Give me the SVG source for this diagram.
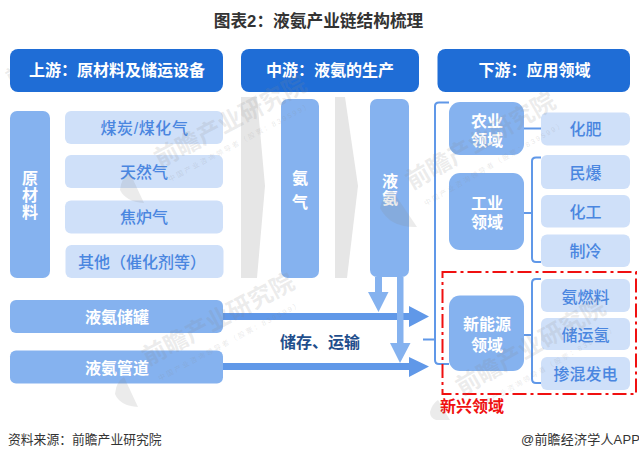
<svg xmlns="http://www.w3.org/2000/svg" width="639" height="460" viewBox="0 0 639 460">
<style>
text{font-family:"Liberation Sans","Noto Sans CJK SC",sans-serif;text-anchor:middle}
.h{fill:#1f6dd6}.m{fill:#85b2ef}.l{fill:#cfe0f9}.g{fill:#e6e6e6}
.ht{fill:#fff;font-size:16px;font-weight:700}
.mt{fill:#fff;font-size:16px;font-weight:700}
.vt{fill:#fff;font-size:16px;font-weight:700;writing-mode:vertical-rl;letter-spacing:1px}
.lt{fill:#4a86e0;font-size:16px;font-weight:500}
.br{fill:none;stroke:#6098e8;stroke-width:2}
.wm{fill:#8a8a8a;fill-opacity:.17;font-size:24px;font-weight:700;text-anchor:start}
.ws{fill:#8a8a8a;fill-opacity:.2;font-size:7px;letter-spacing:2px;text-anchor:start}
.lg{fill:#8a8a8a;fill-opacity:.17}
</style>
<rect width="639" height="460" fill="#fff"/>
<text id="title" x="318.500" y="27" font-size="16.700" font-weight="700" fill="#333">图表2：液氨产业链结构梳理</text>
<g id="under-watermarks">
<text class="wm" transform="translate(10 84) rotate(-28)" style="font-size:18px">前</text>
<text class="wm" transform="translate(18 272) rotate(-28)" style="font-size:20px">院</text>
</g>
<g id="chevrons">
<path class="g" d="M241 97H257L265 186L257 278H241Z"/>
<path class="g" d="M335 97H345L358 186L347 278H335Z"/>
</g>
<g id="connectors">
<path d="M223 313H409V306L429 316.500L409 327V320H223Z" fill="#6098e8"/>
<path d="M223 363H409V357L429 366.500L409 377V370H223Z" fill="#6098e8"/>
<path d="M375 277H382V292H388.500L378.500 312L368 292H375Z" fill="#85b2ef"/>
<path d="M397 277H403.500V343H410.500L400 363L390 343H397Z" fill="#85b2ef"/>
<path class="br" d="M449 102.500H439Q435 102.500 435 106V360Q435 364 439 364H449M423 339.500H435"/>
<path class="br" d="M524 128.500H541"/>
<path class="br" d="M541 157.500H536Q532 157.500 532 161V258Q532 262 536 262H541M524 213H532"/>
<path class="br" d="M541 279H536Q532 279 532 283V379Q532 383 536 383H541M524 335H532"/>
</g>
<g id="header-up"><rect class="h" x="10" y="49" width="213" height="43" rx="8"/><text class="ht" x="117" y="76">上游：原材料及储运设备</text></g>
<g id="header-mid"><rect class="h" x="241" y="49" width="178" height="43" rx="8"/><text class="ht" x="330" y="76">中游：液氨的生产</text></g>
<g id="header-down"><rect class="h" x="437.500" y="49" width="192.500" height="43" rx="8"/><text class="ht" x="534.500" y="76">下游：应用领域</text></g>
<g id="raw"><rect class="m" x="10" y="111" width="40" height="167" rx="7"/><text class="vt" x="28.500" y="195">原材料</text></g>
<g id="coal"><rect class="l" x="65" y="111" width="158" height="33" rx="6"/><text class="lt" x="144.500" y="134" letter-spacing=".6">煤炭/煤化气</text></g>
<g id="gas"><rect class="l" x="65" y="155" width="158" height="33" rx="6"/><text class="lt" x="144" y="178">天然气</text></g>
<g id="coke"><rect class="l" x="65" y="200.500" width="158" height="33" rx="6"/><text class="lt" x="144" y="223">焦炉气</text></g>
<g id="other"><rect class="l" x="65.500" y="245" width="158" height="33" rx="6"/><text class="lt" x="142" y="268">其他（催化剂等）</text></g>
<g id="ammonia-gas"><rect class="m" x="281" y="99" width="38" height="179" rx="7"/><text class="mt"><tspan x="300" y="184">氨</tspan><tspan x="300" dy="24">气</tspan></text></g>
<g id="liquid-ammonia"><rect class="m" x="370" y="99" width="39" height="178" rx="7"/><text class="vt" x="388.500" y="190">液氨</text></g>
<g id="tank"><rect class="m" x="10" y="300" width="213" height="33" rx="6"/><text class="mt" x="117" y="323">液氨储罐</text></g>
<g id="pipe"><rect class="m" x="10" y="350.500" width="213" height="33" rx="6"/><text class="mt" x="117" y="374">液氨管道</text></g>
<text id="transport" x="320" y="348" font-size="16" font-weight="700" fill="#1f4e8c">储存、运输</text>
<g id="agri"><rect class="m" x="449" y="102" width="75" height="53" rx="11"/><text class="mt"><tspan x="487" y="127">农业</tspan><tspan x="487" dy="19">领域</tspan></text></g>
<g id="industry"><rect class="m" x="449" y="173" width="75" height="77" rx="11"/><text class="mt"><tspan x="487" y="209">工业</tspan><tspan x="487" dy="19">领域</tspan></text></g>
<g id="energy"><rect class="m" x="449" y="295.500" width="75" height="75.500" rx="11"/><text class="mt"><tspan x="487" y="330">新能源</tspan><tspan x="487" dy="21">领域</tspan></text></g>
<g id="fert"><rect class="l" x="541" y="112.500" width="89" height="33" rx="6"/><text class="lt" x="585.500" y="135">化肥</text></g>
<g id="blast"><rect class="l" x="541" y="155" width="89" height="34" rx="6"/><text class="lt" x="585.500" y="179">民爆</text></g>
<g id="chem"><rect class="l" x="541" y="195" width="89" height="32.500" rx="6"/><text class="lt" x="585.500" y="218">化工</text></g>
<g id="cold"><rect class="l" x="541" y="234.500" width="89" height="32.500" rx="6"/><text class="lt" x="585.500" y="257">制冷</text></g>
<g id="fuel"><rect class="l" x="541" y="279" width="89" height="33" rx="6"/><text class="lt" x="585.500" y="303">氨燃料</text></g>
<g id="h2"><rect class="l" x="541" y="318" width="89" height="32" rx="6"/><text class="lt" x="585.500" y="341">储运氢</text></g>
<g id="blend"><rect class="l" x="541" y="357" width="89" height="33" rx="6"/><text class="lt" x="585.500" y="380">掺混发电</text></g>
<g id="emerging"><rect x="442.500" y="272" width="193.500" height="122" fill="none" stroke="#f01010" stroke-width="2" stroke-dasharray="14 4 3 4"/><text x="472" y="412" font-size="16" font-weight="700" fill="#f01010">新兴领域</text></g>
<g id="watermarks">
<text class="wm" transform="translate(160 168) rotate(-28)">前瞻产业研究院</text>
<text class="ws" transform="translate(170 182) rotate(-28)">中国产业咨询领导者（股票：839599）</text>
<text class="wm" transform="translate(148 366) rotate(-28)">前瞻产业研究院</text>
<text class="ws" transform="translate(160 381) rotate(-28)">中国产业咨询领导者（股票：839599）</text>
<text class="wm" transform="translate(412 190) rotate(-30)">前瞻产业研究院</text>
<text class="ws" transform="translate(426 206) rotate(-30)">中国产业咨询领导者（股票：839599）</text>
<text class="wm" transform="translate(462 396) rotate(-30)">前瞻产业研究院</text>
<text class="ws" transform="translate(478 410) rotate(-30)">中国产业咨询领导者（股票：839599）</text>
<path class="lg" d="M120 190Q121 178 130 173L144 203Q126 202 120 190Z"/>
<path class="lg" d="M115 394Q116 382 124 377L138 407Q120 406 115 394Z"/>
<path class="lg" d="M380 208Q382 196 392 190L417 227Q390 228 380 208Z"/>
<path class="lg" d="M430 412Q432 404 438 400L450 420H436Q430 418 430 412Z"/>
</g>
<text id="source" x="8" y="444" font-size="12.800" fill="#333" style="text-anchor:start">资料来源：前瞻产业研究院</text>
<text id="brand" x="521" y="444" font-size="13" letter-spacing=".2" fill="#333" style="text-anchor:start">@前瞻经济学人APP</text>
</svg>
